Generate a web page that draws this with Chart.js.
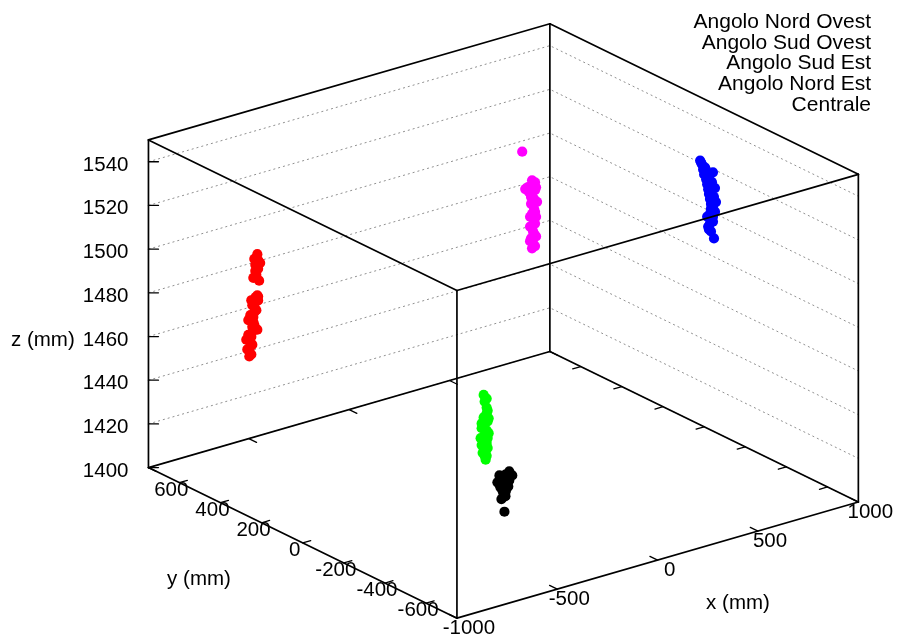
<!DOCTYPE html>
<html>
<head>
<meta charset="utf-8">
<script src="https://cdn.jsdelivr.net/npm/chart.js@4.4.1/dist/chart.umd.min.js"></script>
<style>
  body { margin: 0; background: #fff; }
  #chart { display: block; }
</style>
</head>
<body>
<canvas id="chart" width="903" height="640"></canvas>
<script>
var seriesNames = ['Angolo Nord Ovest', 'Angolo Sud Ovest', 'Angolo Sud Est', 'Angolo Nord Est', 'Centrale'];
var seriesColors = ['#ff0000', '#00ff00', '#0000ff', '#ff00ff', '#000000'];

var xRange = [-1000, 1000];
var yRange = [-750, 750];
var zRange = [1400, 1550];
var xTicks = [-1000, -500, 0, 500, 1000];
var yTicks = [-600, -400, -200, 0, 200, 400, 600];
var zTicks = [1400, 1420, 1440, 1460, 1480, 1500, 1520, 1540];

// measured points (mm)
var nordOvestX = [-723, -723, -718, -718, -713, -708, -708, -703, -703, -698, -698, -693, -693, -688, -683, -738, -728, -683, -713, -679, -703, -688, -679, -693, -679, -683, -693,
                  -733, -708, -728, -698, -718, -688, -708, -679, -674, -669, -698, -713];
var nordOvestY = [530, 530, 530, 530, 530, 530, 530, 530, 530, 530, 530, 530, 530, 530, 530, 530, 530, 530, 530, 530, 530, 530, 530, 530, 530, 530, 530,
                  530, 530, 530, 530, 530, 530, 530, 530, 530, 530, 530, 530];
var nordOvestZ = [1453.6, 1455.9, 1458.0, 1460.3, 1462.4, 1464.5, 1466.8, 1468.9, 1471.1, 1473.2, 1475.5, 1477.6, 1479.9, 1479.3, 1480.5, 1461.7, 1470.4, 1464.8, 1479.1, 1478.1, 1489.1, 1490.1, 1492.6, 1494.8, 1496.6, 1499.4, 1492.0,
                  1457.1, 1458.6, 1463.7, 1467.4, 1472.4, 1473.9, 1476.7, 1479.9, 1487.0, 1495.0, 1497.6, 1454.3];

var sudOvestX = [-621, -616, -606, -606, -621, -601, -621, -606, -616, -626, -606, -621, -611, -616, -611, -596, -636, -596, -631,
                 -601, -631, -601, -631, -601, -606, -626, -606];
var sudOvestY = [-510, -510, -510, -510, -510, -510, -510, -510, -510, -510, -510, -510, -510, -510, -510, -510, -510, -510, -510,
                 -510, -510, -510, -510, -510, -510, -510, -510];
var sudOvestZ = [1481.1, 1477.9, 1474.9, 1472.2, 1470.8, 1468.5, 1466.7, 1464.5, 1462.6, 1461.0, 1458.7, 1457.3, 1455.2, 1453.1, 1451.2, 1469.7, 1461.7, 1462.9, 1466.1,
                 1473.4, 1468.3, 1460.8, 1458.4, 1456.3, 1479.0, 1454.7, 1452.8];

var sudEstX = [724, 734, 739, 744, 754, 759, 764, 768, 773, 778, 778, 773, 773, 773, 768, 793, 788, 798, 803, 798, 788,
               749, 768, 783, 778, 793, 788, 759, 788, 764, 778, 729, 754];
var sudEstY = [-250, -250, -250, -250, -250, -250, -250, -250, -250, -250, -250, -250, -250, -250, -250, -250, -250, -250, -250, -250, -250,
               -250, -250, -250, -250, -250, -250, -250, -250, -250, -250, -250, -250];
var sudEstZ = [1540.7, 1538.6, 1536.2, 1533.8, 1531.3, 1528.9, 1526.5, 1524.2, 1521.8, 1519.4, 1517.2, 1515.0, 1512.8, 1510.5, 1508.0, 1503.2, 1533.6, 1526.1, 1519.6, 1515.3, 1511.0,
               1536.8, 1531.8, 1529.2, 1523.9, 1522.2, 1517.8, 1514.1, 1513.3, 1509.4, 1506.8, 1539.6, 1534.5];

var nordEstX = [655, 660, 650, 665, 655, 670, 660, 655, 665, 650, 665, 655, 670, 660, 655, 621, 640, 606, 680, 675, 645,
                670, 645, 675, 645, 670, 650, 675, 635, 670, 660];
var nordEstY = [500, 500, 500, 500, 500, 500, 500, 500, 500, 500, 500, 500, 500, 500, 500, 500, 500, 500, 500, 500, 500,
                500, 500, 500, 500, 500, 500, 500, 500, 500, 500];
var nordEstZ = [1467.9, 1470.1, 1472.6, 1474.4, 1477.0, 1478.8, 1481.3, 1483.7, 1485.7, 1488.4, 1490.2, 1492.7, 1494.1, 1496.6, 1499.0, 1495.9, 1494.0, 1513.4, 1488.5, 1481.8, 1478.1,
                1468.5, 1471.4, 1472.8, 1482.6, 1484.2, 1491.5, 1495.3, 1496.4, 1497.7, 1475.5];

var centraleX = [-358, -328, -309, -294, -343, -318, -353, -323, -338, -348, -333, -309, -368, -333, -314, -328,
                 -348, -323, -358, -338, -343, -328, -338];
var centraleY = [-330, -330, -330, -330, -330, -330, -330, -330, -330, -330, -330, -330, -330, -330, -330, -330,
                 -330, -330, -330, -330, -330, -330, -330];
var centraleZ = [1429.0, 1428.6, 1429.5, 1427.3, 1425.9, 1424.3, 1423.4, 1421.8, 1420.3, 1417.9, 1411.7, 1425.4, 1426.1, 1427.0, 1422.8, 1418.7,
                 1427.8, 1426.3, 1424.9, 1423.9, 1421.8, 1420.5, 1418.5];

var seriesX = [nordOvestX, sudOvestX, sudEstX, nordEstX, centraleX];
var seriesY = [nordOvestY, sudOvestY, sudEstY, nordEstY, centraleY];
var seriesZ = [nordOvestZ, sudOvestZ, sudEstZ, nordEstZ, centraleZ];

// how far each full axis runs on the page (a fixed 3d view)
var view = { x: [406, 118], y: [-312, 153], z: [0, 333] };

function project(x, y, z) {
  var fx = (x - xRange[0]) / (xRange[1] - xRange[0]);
  var fy = (y - yRange[0]) / (yRange[1] - yRange[0]);
  var fz = (z - zRange[0]) / (zRange[1] - zRange[0]);
  return {
    x: view.x[0] * fx + view.y[0] * fy + view.z[0] * fz,
    y: view.x[1] * fx + view.y[1] * fy + view.z[1] * fz
  };
}

var datasets = [];
for (var s = 0; s < seriesNames.length; s++) {
  var pts = [];
  for (var i = 0; i < seriesX[s].length; i++) {
    pts.push(project(seriesX[s][i], seriesY[s][i], seriesZ[s][i]));
  }
  datasets.push({
    label: seriesNames[s],
    data: pts,
    backgroundColor: seriesColors[s],
    borderColor: seriesColors[s],
    borderWidth: 0,
    pointRadius: 5.1,
    pointHoverRadius: 5.1
  });
}

var tickFont = '20.5px "Liberation Sans", Arial, sans-serif';
var keyFont = '21px "Liberation Sans", Arial, sans-serif';

function px(chart, x, y, z) {
  var p = project(x, y, z);
  return [chart.scales.x.getPixelForValue(p.x), chart.scales.y.getPixelForValue(p.y)];
}

function line(ctx, a, b) {
  ctx.beginPath();
  ctx.moveTo(a[0], a[1]);
  ctx.lineTo(b[0], b[1]);
  ctx.stroke();
}

var box3d = {
  id: 'box3d',
  beforeDatasetsDraw: function(chart) {
    var ctx = chart.ctx;
    ctx.save();
    ctx.strokeStyle = '#909090';
    ctx.lineWidth = 1;
    ctx.setLineDash([2, 3]);
    zTicks.forEach(function(z) {
      var a = px(chart, xRange[0], yRange[1], z);
      var b = px(chart, xRange[1], yRange[1], z);
      var c = px(chart, xRange[1], yRange[0], z);
      ctx.beginPath();
      ctx.moveTo(a[0], a[1]);
      ctx.lineTo(b[0], b[1]);
      ctx.lineTo(c[0], c[1]);
      ctx.stroke();
    });
    ctx.restore();
  },
  afterDatasetsDraw: function(chart) {
    var ctx = chart.ctx;
    var xs = xRange, ys = yRange, zs = zRange;
    ctx.save();
    ctx.strokeStyle = '#000';
    ctx.lineWidth = 1.7;
    ctx.lineCap = 'round';

    // box edges
    for (var i = 0; i < 2; i++) {
      for (var j = 0; j < 2; j++) {
        line(ctx, px(chart, xs[0], ys[i], zs[j]), px(chart, xs[1], ys[i], zs[j]));
        line(ctx, px(chart, xs[i], ys[0], zs[j]), px(chart, xs[i], ys[1], zs[j]));
        line(ctx, px(chart, xs[i], ys[j], zs[0]), px(chart, xs[i], ys[j], zs[1]));
      }
    }

    // tick marks
    ctx.lineWidth = 1.3;
    var yIn = 0.025 * (ys[1] - ys[0]);
    var xIn = 0.02 * (xs[1] - xs[0]);
    xTicks.forEach(function(x) {
      line(ctx, px(chart, x, ys[0], zs[0]), px(chart, x, ys[0] + yIn, zs[0]));
      line(ctx, px(chart, x, ys[1], zs[0]), px(chart, x, ys[1] - yIn, zs[0]));
    });
    yTicks.forEach(function(y) {
      line(ctx, px(chart, xs[0], y, zs[0]), px(chart, xs[0] + xIn, y, zs[0]));
      line(ctx, px(chart, xs[1], y, zs[0]), px(chart, xs[1] - xIn, y, zs[0]));
    });
    zTicks.forEach(function(z) {
      var a = px(chart, xs[0], ys[1], z);
      line(ctx, a, [a[0] + 10, a[1]]);
    });

    // tick labels
    ctx.fillStyle = '#000';
    ctx.font = tickFont;
    ctx.textBaseline = 'alphabetic';
    ctx.textAlign = 'center';
    xTicks.forEach(function(x) {
      var p = px(chart, x, ys[0], zs[0]);
      ctx.fillText(String(x), p[0] + 12, p[1] + 15.5);
    });
    yTicks.forEach(function(y) {
      var p = px(chart, xs[0], y, zs[0]);
      ctx.fillText(String(y), p[0] - 8, p[1] + 13);
    });
    ctx.textAlign = 'right';
    zTicks.forEach(function(z) {
      var p = px(chart, xs[0], ys[1], z);
      ctx.fillText(String(z), p[0] - 20, p[1] + 9);
    });

    // axis titles
    ctx.textAlign = 'center';
    ctx.fillText('x (mm)', 738, 609);
    ctx.fillText('y (mm)', 199, 585);
    ctx.textAlign = 'left';
    ctx.fillText('z (mm)', 11, 346);

    // key (text only)
    ctx.font = keyFont;
    ctx.textAlign = 'right';
    chart.data.datasets.forEach(function(ds, k) {
      ctx.fillText(ds.label, 871, 27.7 + 20.8 * k);
    });
    ctx.restore();
  }
};

new Chart(document.getElementById('chart'), {
  type: 'scatter',
  data: { datasets: datasets },
  options: {
    responsive: false,
    animation: false,
    layout: { padding: 0 },
    scales: {
      x: { type: 'linear', display: false, min: -457, max: 446 },
      y: { type: 'linear', display: false, min: -17, max: 623 }
    },
    plugins: {
      legend: { display: false },
      tooltip: { enabled: false }
    }
  },
  plugins: [box3d]
});
</script>
</body>
</html>
